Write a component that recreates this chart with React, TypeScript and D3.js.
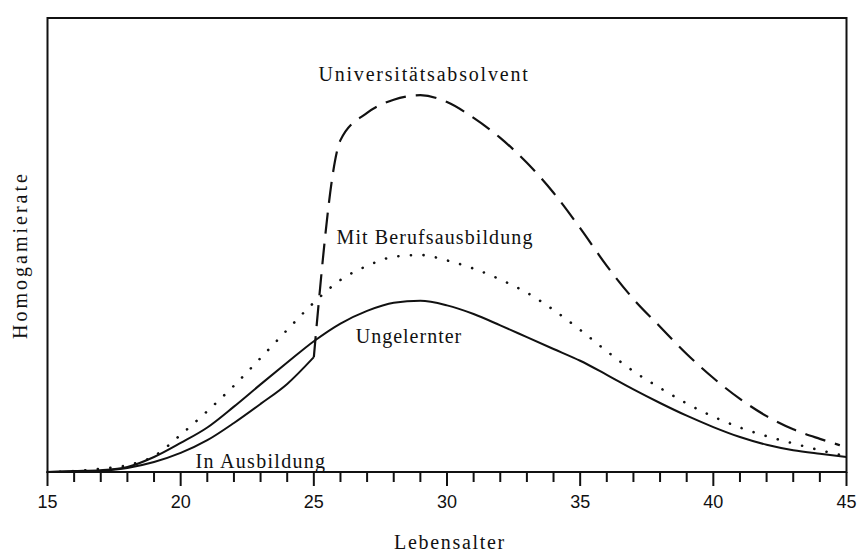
import * as d3 from "d3";

// Lebensalter (Jahre)
const ages = [15, 16, 17, 18, 19, 20, 21, 22, 23, 24, 25, 26, 27, 28, 29, 30, 31, 32, 33, 34, 35, 36, 37, 38, 39, 40, 41, 42, 43, 44, 45];

// Homogamierate (relative Einheiten)
const ungelernter = [0, 0.2, 0.4, 1.1, 3.3, 6.4, 9.8, 14.4, 19.3, 24.1, 28.8, 32.7, 35.5, 37.3, 37.7, 36.7, 34.8, 32.3, 29.7, 27.1, 24.5, 21.4, 18.2, 15.2, 12.4, 9.9, 7.7, 6.0, 4.8, 4.0, 3.3];
const mitBerufsausbildung = [0, 0.2, 0.7, 1.5, 3.5, 8.2, 13.4, 19.0, 25.1, 31.3, 37.3, 42.3, 45.4, 47.4, 47.8, 46.6, 44.8, 42.4, 39.5, 35.7, 31.3, 26.6, 22.2, 18.5, 15.1, 12.2, 9.8, 7.9, 6.3, 4.8, 3.5];

const ausbildungAges = [15, 16, 17, 18, 19, 20, 21, 22, 23, 24, 25];
const inAusbildung = [0, 0.1, 0.3, 0.9, 2.2, 4.2, 7.0, 10.8, 15.0, 19.4, 25.3];

const uniAges = [25, 26, 27, 28, 29, 30, 31, 32, 33, 34, 35, 36, 37, 38, 39, 40, 41, 42, 43, 44, 44.75];
const universitaet = [25.3, 73.1, 79.1, 82.0, 83.0, 81.5, 78.0, 73.6, 68.1, 61.5, 53.7, 45.4, 38.1, 32.0, 26.0, 20.7, 16.1, 12.3, 9.4, 7.3, 5.9];

const tickYears = d3.range(15, 46);
const labelYears = [15, 20, 25, 30, 35, 40, 45];

const W = 862;
const H = 556;
const left = 47.5;
const right = 846.5;
const top = 18;
const bottom = 472;

const serif = "'Liberation Serif', 'DejaVu Serif', serif";
const sans = "'Liberation Sans', Arial, sans-serif";

export default function App() {
  const x = d3.scaleLinear().domain([15, 45]).range([left, right]);
  const y = d3.scaleLinear().domain([0, 100]).range([bottom, top]);

  const line = d3
    .line<[number, number]>()
    .x((d) => x(d[0]))
    .y((d) => y(d[1]))
    .curve(d3.curveMonotoneX);

  const zip = (xs: number[], ys: number[]) => xs.map((a, i) => [a, ys[i]] as [number, number]);

  return (
    <svg
      width={W}
      height={H}
      style={{ position: "absolute", left: 0, top: 0, background: "#fff" }}
    >
      {/* Rahmen */}
      <rect
        x={left}
        y={top}
        width={right - left}
        height={bottom - top}
        fill="none"
        stroke="#111"
        strokeWidth={2}
      />

      {/* Kurven */}
      <path d={line(zip(ages, ungelernter)) ?? ""} fill="none" stroke="#111" strokeWidth={2} />
      <path d={line(zip(ausbildungAges, inAusbildung)) ?? ""} fill="none" stroke="#111" strokeWidth={2} />
      <path
        d={line(zip(ages, mitBerufsausbildung)) ?? ""}
        fill="none"
        stroke="#111"
        strokeWidth={2.6}
        strokeLinecap="round"
        strokeDasharray="0.1,12.5"
      />
      <path
        d={line(zip(uniAges, universitaet)) ?? ""}
        fill="none"
        stroke="#111"
        strokeWidth={2.2}
        strokeDasharray="21,10"
      />

      {/* x-Achse */}
      {tickYears.map((t) => (
        <line
          key={t}
          x1={x(t)}
          x2={x(t)}
          y1={bottom}
          y2={bottom + (t % 5 === 0 ? 14 : 10)}
          stroke="#111"
          strokeWidth={2}
        />
      ))}
      {labelYears.map((t) => (
        <text
          key={t}
          x={x(t)}
          y={508}
          textAnchor="middle"
          fontFamily={sans}
          fontSize={18}
          fill="#111"
        >
          {t}
        </text>
      ))}

      {/* Beschriftungen */}
      <g fontFamily={serif} fontSize={20} fill="#111" textAnchor="middle">
        <text x={424} y={81} letterSpacing={1.8}>
          Universitätsabsolvent
        </text>
        <text x={435} y={244} letterSpacing={1.1}>
          Mit Berufsausbildung
        </text>
        <text x={409} y={343} letterSpacing={1}>
          Ungelernter
        </text>
        <text x={261} y={468} letterSpacing={1.3}>
          In Ausbildung
        </text>
        <text transform={`translate(27, 255) rotate(-90)`} letterSpacing={3}>
          Homogamierate
        </text>
        <text x={450} y={549} letterSpacing={1.7}>
          Lebensalter
        </text>
      </g>
    </svg>
  );
}
